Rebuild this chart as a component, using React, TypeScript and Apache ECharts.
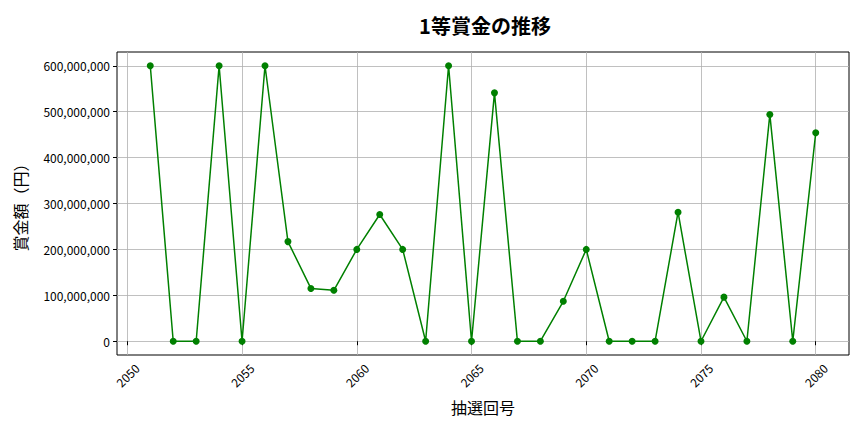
import { useEffect, useRef } from 'react';
import * as echarts from 'echarts';

// draw numbers (抽選回号) and 1st prize amounts (円)
const rounds = [
  2051, 2052, 2053, 2054, 2055, 2056, 2057, 2058, 2059, 2060,
  2061, 2062, 2063, 2064, 2065, 2066, 2067, 2068, 2069, 2070,
  2071, 2072, 2073, 2074, 2075, 2076, 2077, 2078, 2079, 2080,
];
const prizes = [
  600000000, 0, 0, 600000000, 0, 600000000, 217000000, 115000000, 111000000, 200000000,
  276000000, 200000000, 0, 600000000, 0, 541000000, 0, 0, 87000000, 200000000,
  0, 0, 0, 281000000, 0, 96000000, 0, 494000000, 0, 454000000,
];
const xTicks = [2050, 2055, 2060, 2065, 2070, 2075, 2080];
const yTicks = [0, 100000000, 200000000, 300000000, 400000000, 500000000, 600000000];

const FONT = '"Noto Sans CJK JP", "Noto Sans", sans-serif';

export default function App() {
  const chartRef = useRef<HTMLDivElement>(null);

  useEffect(() => {
    if (!chartRef.current) return;
    const chart = echarts.init(chartRef.current, null, { renderer: 'svg' });

    chart.setOption({
      animation: false,
      backgroundColor: '#fff',
      textStyle: { fontFamily: FONT },
      title: {
        text: '1等賞金の推移',
        left: 480,
        top: 10,
        textAlign: 'center',
        textStyle: { fontFamily: FONT, fontSize: 20, fontWeight: 'bold', color: '#000' },
      },
      grid: {
        left: 117, right: 15, top: 52, bottom: 77,
        show: true, borderColor: '#000', borderWidth: 1, backgroundColor: 'transparent',
      },
      xAxis: {
        type: 'value',
        min: 2049.55,
        max: 2081.45,
        name: '抽選回号',
        nameLocation: 'middle',
        nameGap: 44,
        nameTextStyle: { fontFamily: FONT, fontSize: 16, color: '#000' },
        axisLine: { show: false },
        axisTick: { show: true, length: 4, customValues: xTicks, lineStyle: { color: '#000' } },
        axisLabel: {
          customValues: xTicks,
          rotate: 45,
          align: 'center',
          verticalAlign: 'middle',
          margin: 20,
          fontSize: 12,
          color: '#000',
          fontFamily: FONT,
          formatter: (v: number) => String(v),
        },
        splitLine: { show: true, lineStyle: { color: '#b0b0b0', width: 0.8 } },
      },
      yAxis: {
        type: 'value',
        min: -30000000,
        max: 630000000,
        name: '賞金額（円）',
        nameLocation: 'middle',
        nameGap: 89,
        nameTextStyle: { fontFamily: FONT, fontSize: 16, color: '#000' },
        axisLine: { show: false },
        axisTick: { show: true, length: 4, customValues: yTicks, lineStyle: { color: '#000' } },
        axisLabel: {
          customValues: yTicks,
          margin: 7,
          fontSize: 12,
          color: '#000',
          fontFamily: FONT,
          formatter: (v: number) => v.toLocaleString('en-US'),
        },
        splitLine: { show: true, lineStyle: { color: '#b0b0b0', width: 0.8 } },
      },
      series: [{
        type: 'line',
        data: rounds.map((r, i) => [r, prizes[i]]),
        symbol: 'circle',
        symbolSize: 7,
        showSymbol: true,
        lineStyle: { color: '#008000', width: 1.5 },
        itemStyle: { color: '#008000' },
      }],
    });

    return () => { chart.dispose(); };
  }, []);

  return (
    <div
      ref={chartRef}
      style={{ position: 'fixed', left: 0, top: 0, width: '864px', height: '432px' }}
    />
  );
}
